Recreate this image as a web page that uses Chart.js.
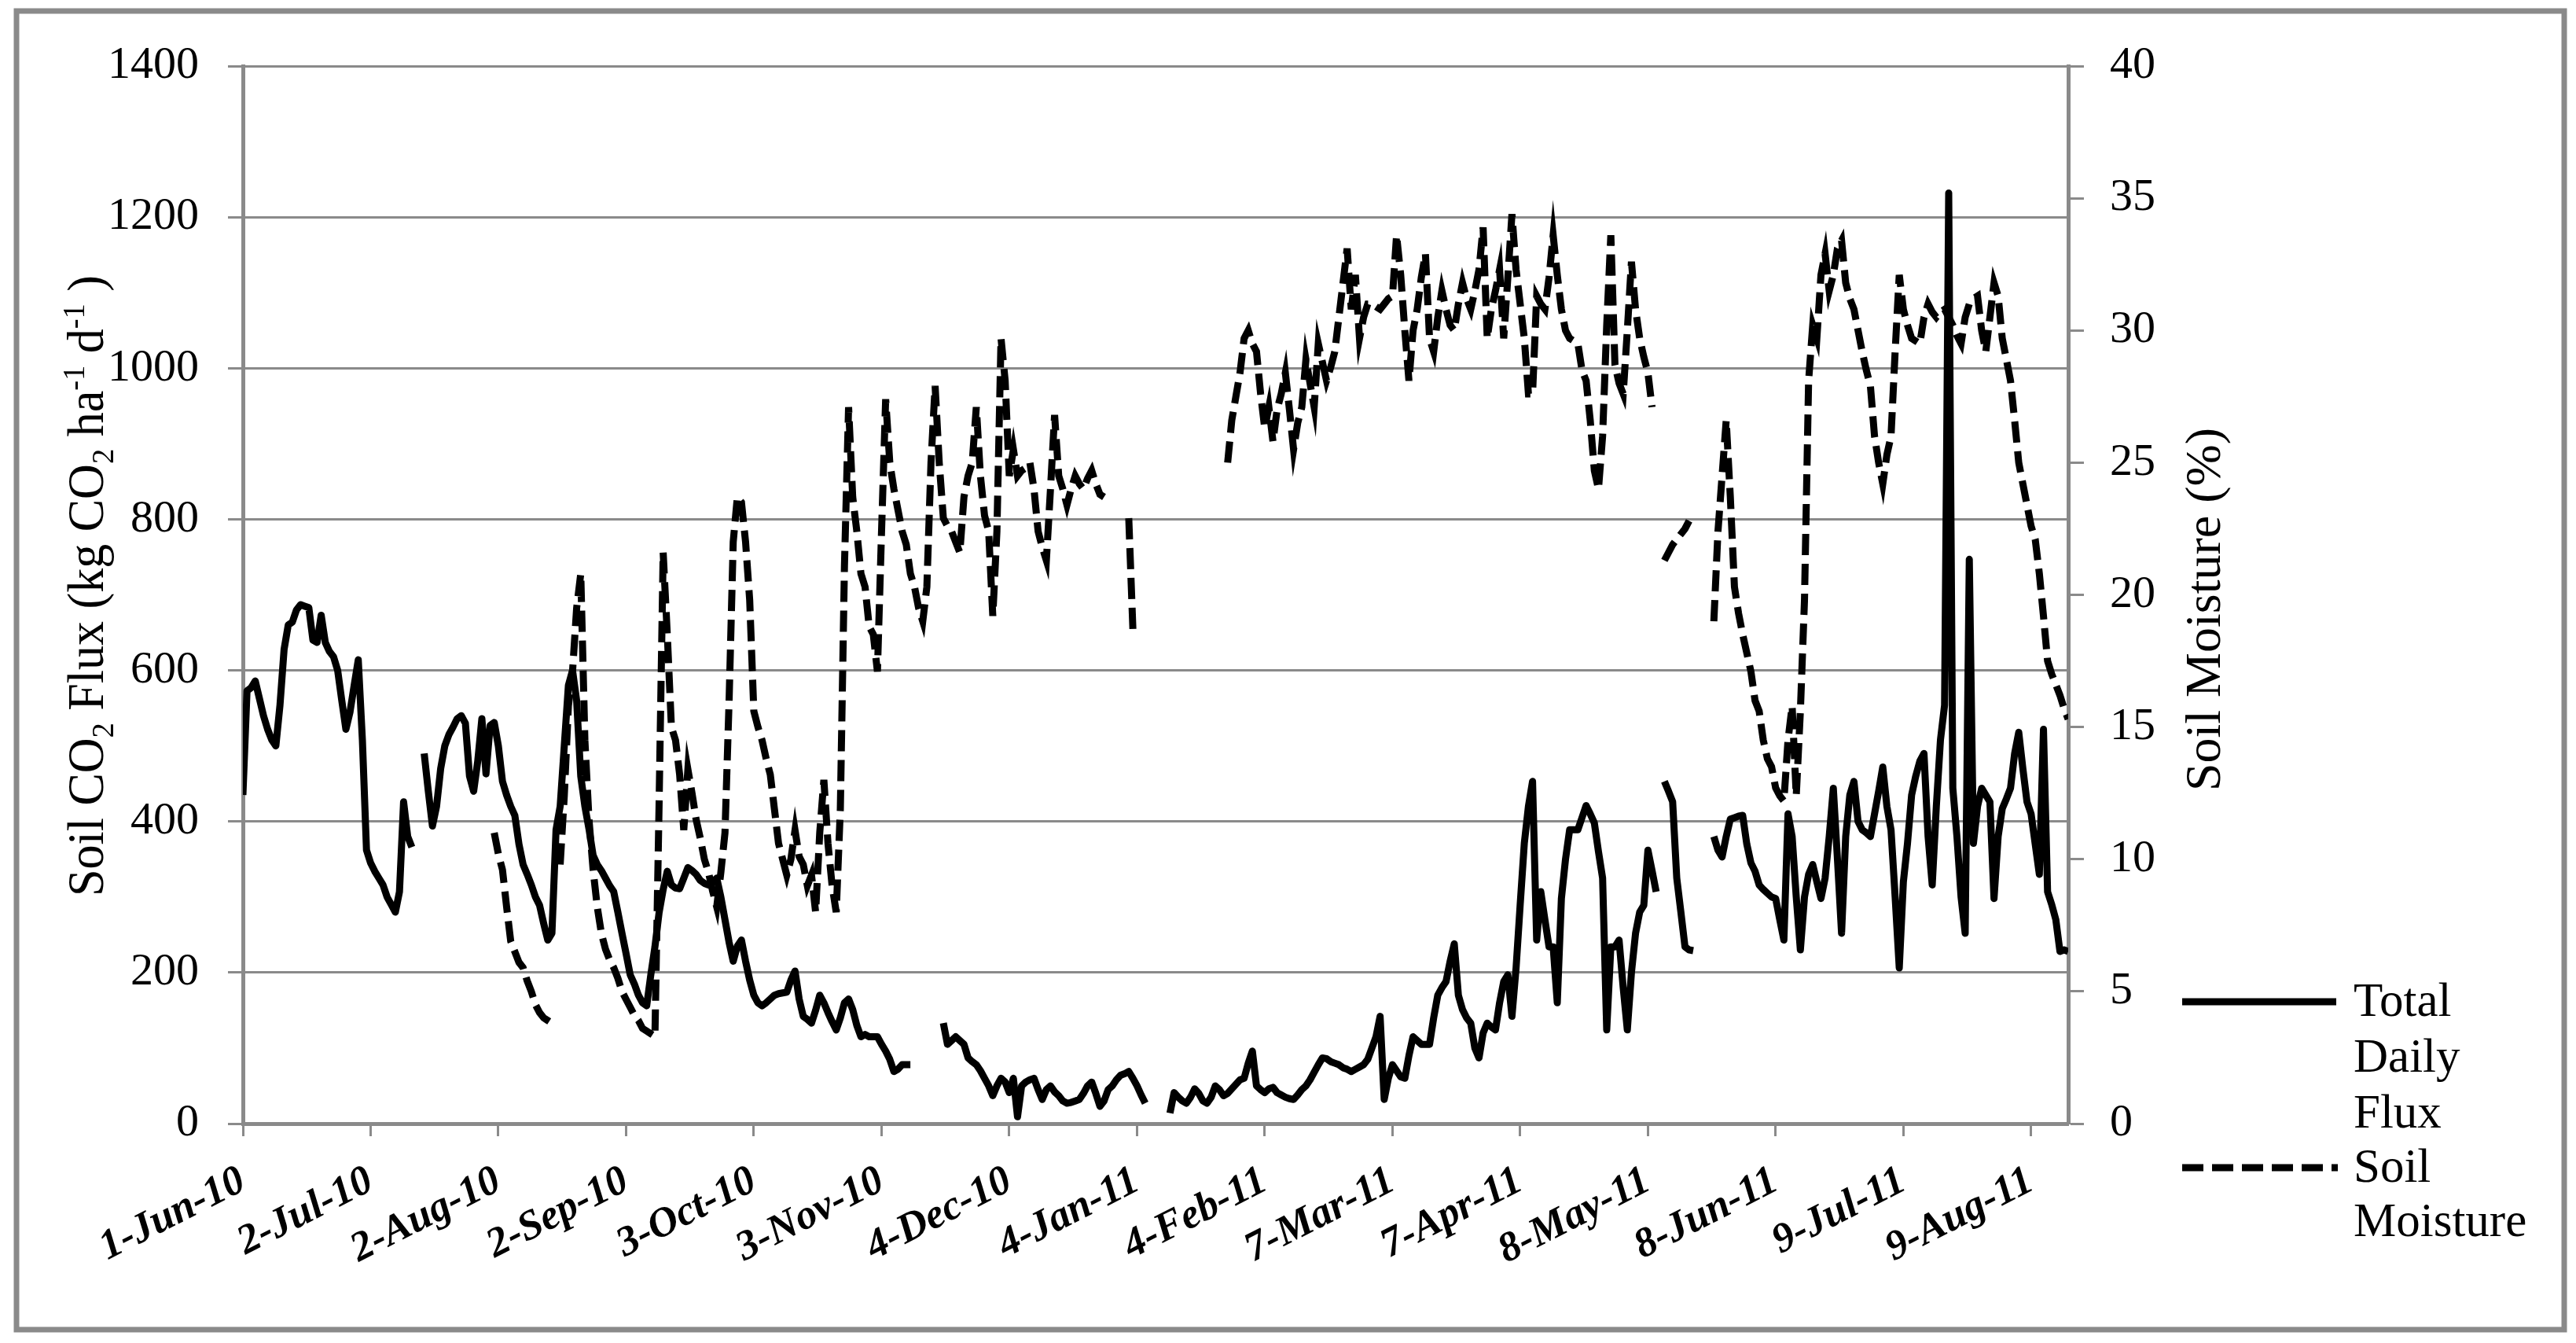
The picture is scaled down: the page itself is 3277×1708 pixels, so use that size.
<!DOCTYPE html>
<html><head><meta charset="utf-8">
<script src="https://cdn.jsdelivr.net/npm/chart.js@4.4.1/dist/chart.umd.min.js"></script>
<style>html,body{margin:0;padding:0;background:#fff;overflow:hidden}canvas{display:block}</style>
</head><body>
<canvas id="c" width="3277" height="1708" style="width:3277px;height:1708px"></canvas>
<script>
// ---- data (one value per day, day 0 = 1-Jun-10; null = no data) ----
const tickLabels = ['1-Jun-10','2-Jul-10','2-Aug-10','2-Sep-10','3-Oct-10','3-Nov-10','4-Dec-10','4-Jan-11','4-Feb-11','7-Mar-11','7-Apr-11','8-May-11','8-Jun-11','9-Jul-11','9-Aug-11'];
const tickStepDays = 31;
const lastDay = 443;
const fluxLabel = 'Total Daily Flux';
const moistureLabel = 'Soil Moisture';

const fluxValues = [
 435,573,577,586,563,540,522,508,500,554,
 628,660,664,680,687,685,683,640,637,673,
 637,625,618,600,560,522,545,580,614,508,
 362,345,334,325,316,300,290,280,307,426,
 380,366,null,null,490,440,394,420,470,500,
 515,525,536,540,530,460,440,480,536,463,
 527,531,500,453,435,420,408,370,343,330,
 316,300,289,265,243,252,389,420,500,580,
 600,560,460,420,390,355,343,335,325,315,
 307,280,252,225,197,185,170,160,156,197,
 234,279,310,334,316,312,311,325,339,335,
 330,322,318,316,320,325,300,270,240,215,
 235,243,215,190,170,160,156,160,165,170,
 172,173,174,190,202,165,142,138,133,150,
 170,160,147,135,124,140,160,165,151,130,
 115,118,115,115,115,105,96,85,69,72,
 78,78,78,null,null,null,null,null,null,null,
 133,105,110,115,110,105,87,82,78,70,
 60,50,37,50,60,55,41,60,9,50,
 55,58,60,45,32,45,50,42,37,30,
 27,28,30,32,40,50,55,40,23,30,
 45,50,58,64,66,69,60,50,38,27,
 null,null,null,null,null,14,41,35,30,27,
 35,46,40,30,27,35,50,45,37,40,
 46,52,58,60,80,96,50,45,41,46,
 48,41,38,35,33,32,38,45,50,58,
 68,78,87,86,82,80,78,74,72,69,
 72,75,78,85,100,115,142,32,60,78,
 70,62,60,90,115,110,105,105,105,140,
 170,180,188,215,238,170,151,140,133,100,
 87,120,133,128,124,160,188,197,142,206,
 290,371,420,453,243,307,270,234,234,160,
 298,350,389,389,389,405,421,410,398,360,
 325,124,234,234,243,180,124,200,252,280,
 289,362,335,307,null,453,440,426,325,280,
 234,230,229,null,null,null,null,380,362,353,
 380,403,405,407,408,370,345,334,316,310,
 305,300,298,270,243,410,380,300,230,300,
 330,343,320,298,325,380,444,350,252,380,
 435,453,400,389,385,380,410,440,472,420,
 389,300,206,320,371,435,460,480,490,380,
 316,420,508,554,1232,444,380,300,252,747,
 371,420,444,435,426,298,380,417,430,444,
 490,518,470,426,410,370,330,522,307,290,
 270,228,230,228
];

const moistureValues = [
 null,null,null,null,null,null,null,null,null,null,
 null,null,null,null,null,null,null,null,null,null,
 null,null,null,null,null,null,null,null,null,null,
 null,null,null,null,null,null,null,null,null,null,
 null,null,null,null,null,null,null,null,null,null,
 null,null,null,null,null,null,null,null,null,null,
 null,11.0,10.2,9.6,8.2,6.9,6.5,6.1,5.9,5.4,
 5.0,4.5,4.2,4.0,3.9,3.8,null,9.8,12.4,15.8,
 17.1,19.5,20.8,14.5,11.5,9.6,8.2,7.2,6.6,6.2,
 5.9,5.5,5.0,4.7,4.4,4.1,3.9,3.6,3.5,3.4,
 3.3,12.0,21.6,18.5,15.0,14.5,13.2,11.1,13.4,12.5,
 11.5,10.8,10.0,9.5,8.8,8.2,9.5,11.0,16.0,22.0,
 23.7,23.5,22.0,19.8,15.6,15.0,14.5,13.8,13.2,11.9,
 10.6,10.0,9.4,10.0,11.1,10.1,9.8,9.0,9.4,8.0,
 11.0,13.0,10.6,9.0,8.0,11.9,21.1,27.1,23.7,22.4,
 20.8,20.3,18.8,18.5,17.1,22.4,27.4,25.0,24.0,23.2,
 22.4,21.9,20.8,20.3,19.5,19.0,20.3,25.0,27.9,25.0,
 22.9,22.6,22.4,22.0,21.6,23.7,24.5,25.0,27.1,24.5,
 23.0,22.4,19.2,22.4,29.7,28.1,24.5,25.5,24.5,24.7,
 24.8,25.0,24.0,22.4,21.8,21.3,24.0,26.8,24.5,24.0,
 23.4,24.0,24.5,24.2,24.0,24.4,24.7,24.2,23.8,23.7,
 null,null,null,null,null,22.9,18.7,null,null,null,
 null,null,null,null,null,null,null,null,null,null,
 null,null,null,null,null,null,null,null,null,25.0,
 26.6,27.5,28.4,29.7,30.0,29.5,29.2,27.6,26.3,27.1,
 25.8,27.0,27.6,28.4,27.0,25.5,26.5,27.1,28.9,28.0,
 27.1,29.5,28.8,28.1,28.6,29.2,30.5,31.8,33.1,30.8,
 32.1,29.7,30.5,31.0,31.0,30.9,30.8,31.0,31.2,31.3,
 33.6,32.1,30.0,28.1,30.0,30.8,32.0,32.9,29.7,29.2,
 30.5,31.5,30.8,30.2,30.0,31.0,31.8,31.2,30.8,31.5,
 32.3,33.9,29.7,30.8,31.5,32.3,29.7,32.0,34.4,32.3,
 31.0,29.7,27.6,27.6,31.3,31.0,30.8,32.0,33.6,32.1,
 30.8,30.0,29.7,29.6,29.5,28.5,28.1,26.6,24.7,24.0,
 26.0,30.2,33.6,28.7,28.0,27.6,30.0,32.6,30.8,29.7,
 29.0,28.4,27.1,null,null,21.3,21.6,21.9,22.1,22.3,
 22.5,22.8,null,null,null,null,null,19.0,22.4,24.5,
 26.6,23.7,20.3,19.3,18.5,17.8,17.1,16.0,15.6,14.5,
 13.8,13.5,12.7,12.4,12.2,14.5,15.8,12.4,15.6,19.8,
 28.1,30.2,29.7,32.1,32.9,31.5,32.1,33.1,33.4,31.8,
 31.2,30.8,30.0,29.2,28.5,27.9,26.0,25.0,24.2,25.3,
 26.0,29.2,32.1,30.8,30.2,29.7,29.6,29.5,30.5,31.0,
 30.7,30.5,30.7,30.8,30.5,30.2,29.8,29.5,30.5,31.0,
 31.2,31.3,30.0,29.2,30.5,31.8,31.3,29.7,28.9,28.1,
 26.6,25.0,24.2,23.4,22.6,22.1,20.8,19.2,17.5,17.0,
 16.6,16.2,15.7,15.3
];

// ---- styling ----
const GRAY = '#8a8a8a';
const SERIF = "'Liberation Serif','Times New Roman',serif";
const toPoints = arr => arr.map((v, i) => ({x: i, y: v}));

const decor = {
  id: 'decor',
  beforeDraw(chart) {
    const ctx = chart.ctx;
    ctx.save();
    ctx.fillStyle = '#fff';
    ctx.fillRect(0, 0, chart.width, chart.height);
    ctx.strokeStyle = GRAY;
    ctx.lineWidth = 7;
    ctx.strokeRect(21, 14, 3241, 1677);
    ctx.restore();
  },
  afterDraw(chart) {
    const ctx = chart.ctx;
    const drawRich = (parts, bx, by, size, targetLen) => {
      ctx.save();
      ctx.translate(bx, by);
      ctx.rotate(-Math.PI / 2);
      ctx.fillStyle = '#000';
      ctx.textBaseline = 'alphabetic';
      ctx.textAlign = 'left';
      const fontFor = m => (m ? Math.round(size * 0.62) : size) + 'px ' + SERIF;
      let total = 0;
      const widths = parts.map(p => { ctx.font = fontFor(p.m); const w = ctx.measureText(p.t).width; total += w; return w; });
      const sx = targetLen ? targetLen / total : 1;
      ctx.scale(sx, 1);
      let x = -total / 2;
      parts.forEach((p, i) => {
        ctx.font = fontFor(p.m);
        const dy = p.m === 'sub' ? size * 0.2 : (p.m === 'sup' ? -size * 0.36 : 0);
        ctx.fillText(p.t, x, dy);
        x += widths[i];
      });
      ctx.restore();
    };
    drawRich([
      {t: 'Soil CO'}, {t: '2', m: 'sub'}, {t: ' Flux (kg CO'}, {t: '2', m: 'sub'},
      {t: ' ha'}, {t: '-1', m: 'sup'}, {t: ' d'}, {t: '-1', m: 'sup'}, {t: ' )'}
    ], 131, 745, 66, 790);
    drawRich([{t: 'Soil Moisture (%)'}], 2824, 775, 64, 0);

    // legend
    const ds = chart.data.datasets;
    ctx.save();
    ctx.lineCap = 'butt';
    ctx.strokeStyle = '#000';
    ctx.lineWidth = ds[0].borderWidth;
    ctx.beginPath(); ctx.moveTo(2776, 1274); ctx.lineTo(2972, 1274); ctx.stroke();
    ctx.setLineDash(ds[1].borderDash);
    ctx.lineWidth = ds[1].borderWidth;
    ctx.beginPath(); ctx.moveTo(2776, 1485); ctx.lineTo(2974, 1485); ctx.stroke();
    ctx.setLineDash([]);
    ctx.fillStyle = '#000';
    ctx.font = '61px ' + SERIF;
    ctx.textBaseline = 'middle';
    ctx.textAlign = 'left';
    const lines = ['Total', 'Daily', 'Flux', 'Soil', 'Moisture'];
    const ys = [1276, 1347, 1418, 1487, 1556];
    lines.forEach((t, i) => ctx.fillText(t, 2994, ys[i]));
    ctx.restore();
  }
};

Chart.defaults.font.family = SERIF;
Chart.defaults.color = '#000';

new Chart(document.getElementById('c'), {
  type: 'line',
  data: {
    datasets: [
      {label: fluxLabel, data: toPoints(fluxValues), yAxisID: 'y', borderColor: '#000', backgroundColor: '#000',
       borderWidth: 9, pointRadius: 0, tension: 0, spanGaps: false, borderJoinStyle: 'round'},
      {label: moistureLabel, data: toPoints(moistureValues), yAxisID: 'y1', borderColor: '#000', backgroundColor: '#000',
       borderWidth: 9, borderDash: [27, 11], pointRadius: 0, tension: 0, spanGaps: false, borderJoinStyle: 'miter'}
    ]
  },
  options: {
    responsive: false,
    animation: false,
    devicePixelRatio: 1,
    layout: {padding: {top: 84, left: 0, right: 0, bottom: 0}},
    plugins: {legend: {display: false}, tooltip: {enabled: false}},
    scales: {
      x: {
        type: 'linear', min: 0, max: lastDay,
        afterBuildTicks: s => { s.ticks = tickLabels.map((l, i) => ({value: i * tickStepDays})); },
        afterFit: s => { s.height = 1708 - 1429; },
        ticks: {
          autoSkip: false, minRotation: 27, maxRotation: 27, padding: 26,
          font: {size: 53, weight: 'bold', style: 'italic'},
          callback: v => tickLabels[Math.round(v / tickStepDays)]
        },
        grid: {drawOnChartArea: false, tickLength: 16, tickWidth: 3, tickColor: GRAY, color: GRAY},
        border: {display: true, color: GRAY, width: 5}
      },
      y: {
        position: 'left', min: 0, max: 1400,
        afterFit: s => { s.width = 309; },
        ticks: {stepSize: 200, padding: 37, font: {size: 58}, callback: v => String(v)},
        grid: {color: GRAY, lineWidth: 3, tickLength: 19, tickWidth: 3, tickColor: GRAY},
        border: {display: true, color: GRAY, width: 5}
      },
      y1: {
        position: 'right', min: 0, max: 40,
        afterFit: s => { s.width = 3277 - 2631; },
        ticks: {stepSize: 5, padding: 33, font: {size: 58}, callback: v => String(v)},
        grid: {drawOnChartArea: false, tickLength: 20, tickWidth: 3, tickColor: GRAY},
        border: {display: true, color: GRAY, width: 5}
      }
    }
  },
  plugins: [decor]
});
</script>
</body></html>
